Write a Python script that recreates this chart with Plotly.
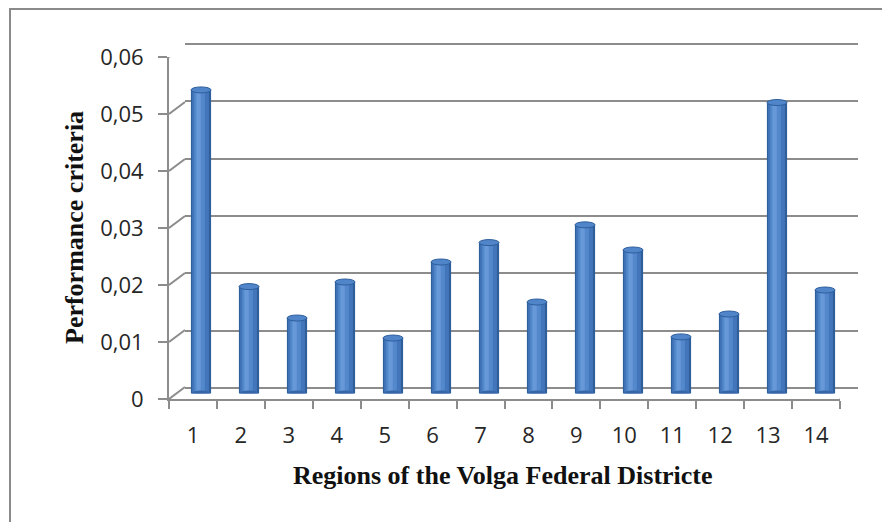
import plotly.graph_objects as go

# ---- data ----
regions = [str(i) for i in range(1, 15)]
criteria = [0.0531, 0.0187, 0.0132, 0.0195, 0.0097, 0.0230, 0.0264,
            0.0160, 0.0295, 0.0251, 0.0099, 0.0139, 0.0509, 0.0181]
y_ticks = [0, 0.01, 0.02, 0.03, 0.04, 0.05, 0.06]
y_tick_labels = ["0", "0,01", "0,02", "0,03", "0,04", "0,05", "0,06"]
x_title = "Regions of the Volga Federal Districte"
y_title = "Performance criteria"

W, H = 890, 522
OFF = 8  # page body margin
def fx(p):
    return (p - OFF) / W
def fy(p):
    return (H - (p - OFF)) / H

GRID = "#8c8c8c"
TICKFONT = dict(family="Open Sans, Liberation Sans, sans-serif", size=22, color="#262626")
TITLEFONT = dict(family="Liberation Serif, Times New Roman, serif", size=26, color="#111111")

fig = go.Figure()

# cylinder-like bars: layered bars on the mid-depth axes
BAR_W = 0.42
layers = [
    dict(color="#2e5e9c", width=BAR_W, shift=0.0),
    dict(color="#4275b9", width=0.35, shift=-0.01),
    dict(color="#5388cc", width=0.22, shift=-0.03),
    dict(color="#6799d8", width=0.09, shift=-0.05),
]
for L in layers:
    fig.add_trace(go.Bar(
        x=regions, y=criteria, xaxis="x3", yaxis="y3",
        width=L["width"], offset=-L["width"] / 2 + L["shift"],
        marker=dict(color=L["color"], line=dict(width=0)),
        hoverinfo="skip", showlegend=False,
    ))

# anchors for back wall and front axes
fig.add_trace(go.Scatter(x=regions, y=[None] * len(regions), xaxis="x2", yaxis="y2",
                         mode="lines", showlegend=False, hoverinfo="skip"))
fig.add_trace(go.Scatter(x=regions, y=[None] * len(regions), xaxis="x", yaxis="y",
                         mode="lines", showlegend=False, hoverinfo="skip"))

shapes = []
# diagonals connecting front y ticks to back wall gridlines
for t in y_ticks:
    shapes.append(dict(type="line", xref="x", yref="y", layer="below",
                       xsizemode="pixel", xanchor=-0.5, x0=0, x1=16,
                       ysizemode="pixel", yanchor=t, y0=0, y1=12,
                       line=dict(color=GRID, width=2)))
# right floor diagonal
shapes.append(dict(type="line", xref="x", yref="y", layer="below",
                   xsizemode="pixel", xanchor=13.5, x0=0, x1=17,
                   ysizemode="pixel", yanchor=0, y0=0, y1=11,
                   line=dict(color=GRID, width=2)))
# cylinder caps (bottom and top ellipses), anchored to each bar
for i, v in enumerate(criteria):
    shapes.append(dict(type="circle", xref="x3", yref="y3", layer="above",
                       xsizemode="pixel", xanchor=i, x0=-10, x1=10,
                       ysizemode="pixel", yanchor=0, y0=-4, y1=3,
                       fillcolor="#3666a8", line=dict(width=0)))
    shapes.append(dict(type="circle", xref="x3", yref="y3", layer="above",
                       xsizemode="pixel", xanchor=i, x0=-10, x1=10,
                       ysizemode="pixel", yanchor=v, y0=-3, y1=3,
                       fillcolor="#5086c9", line=dict(color="#2e5e9c", width=1)))
# chart frame
shapes.append(dict(type="rect", xref="paper", yref="paper",
                   x0=fx(10), x1=fx(920), y0=fy(560), y1=fy(9),
                   line=dict(color="#8a8a8a", width=2), fillcolor="rgba(0,0,0,0)"))

# back wall scale: 0 at y=388 px, 0.06 at y=44 px; range padded so end gridlines are drawn
PAD = 0.001
px_per_unit = (388 - 44) / 0.06
pad_px = PAD * px_per_unit

fig.update_layout(
    width=W, height=H,
    margin=dict(l=0, r=0, t=0, b=0, autoexpand=False),
    paper_bgcolor="white", plot_bgcolor="rgba(0,0,0,0)",
    barmode="overlay",
    showlegend=False,
    shapes=shapes,
    # front axes
    xaxis=dict(domain=[fx(169), fx(840)], anchor="y", type="category",
               categoryorder="array", categoryarray=regions,
               range=[-0.5, 13.5], showgrid=False, zeroline=False,
               showline=True, linecolor=GRID, linewidth=2,
               ticks="outside", tickson="boundaries", ticklen=8,
               tickcolor=GRID, tickwidth=2, automargin=False,
               tickfont=TICKFONT, ticklabelstandoff=16),
    yaxis=dict(domain=[fy(399), fy(57)], anchor="x", range=[0, 0.06],
               tickmode="array", tickvals=y_ticks, ticktext=y_tick_labels,
               showgrid=False, zeroline=False,
               showline=True, linecolor=GRID, linewidth=2,
               ticks="outside", ticklen=9, tickcolor=GRID, tickwidth=2,
               automargin=False,
               tickfont=TICKFONT, ticklabelstandoff=10),
    # back wall
    xaxis2=dict(domain=[fx(185), fx(858)], anchor="y2", type="category",
                categoryorder="array", categoryarray=regions,
                range=[-0.5, 13.5], showgrid=False, zeroline=False,
                showline=False, showticklabels=False, ticks="", automargin=False),
    yaxis2=dict(domain=[fy(388 + pad_px), fy(44 - pad_px)], anchor="x2",
                range=[-PAD, 0.06 + PAD],
                tickmode="array", tickvals=y_ticks,
                showgrid=True, gridcolor=GRID, gridwidth=2, automargin=False,
                zeroline=False, showline=False, showticklabels=False, ticks=""),
    # bar depth
    xaxis3=dict(domain=[fx(177), fx(849)], anchor="y3", type="category",
                categoryorder="array", categoryarray=regions,
                range=[-0.5, 13.5], visible=False, automargin=False),
    yaxis3=dict(domain=[fy(393.5), fy(50.5)], anchor="x3", range=[0, 0.06],
                visible=False, automargin=False),
    annotations=[
        dict(text="<b>" + y_title + "</b>", xref="paper", yref="paper",
             x=fx(74), y=fy(228), textangle=-90, showarrow=False,
             font=TITLEFONT, xanchor="center", yanchor="middle"),
        dict(text="<b>" + x_title + "</b>", xref="paper", yref="paper",
             x=fx(503), y=fy(475), showarrow=False,
             font=TITLEFONT, xanchor="center", yanchor="middle"),
    ],
)

fig.write_html("out.html")
